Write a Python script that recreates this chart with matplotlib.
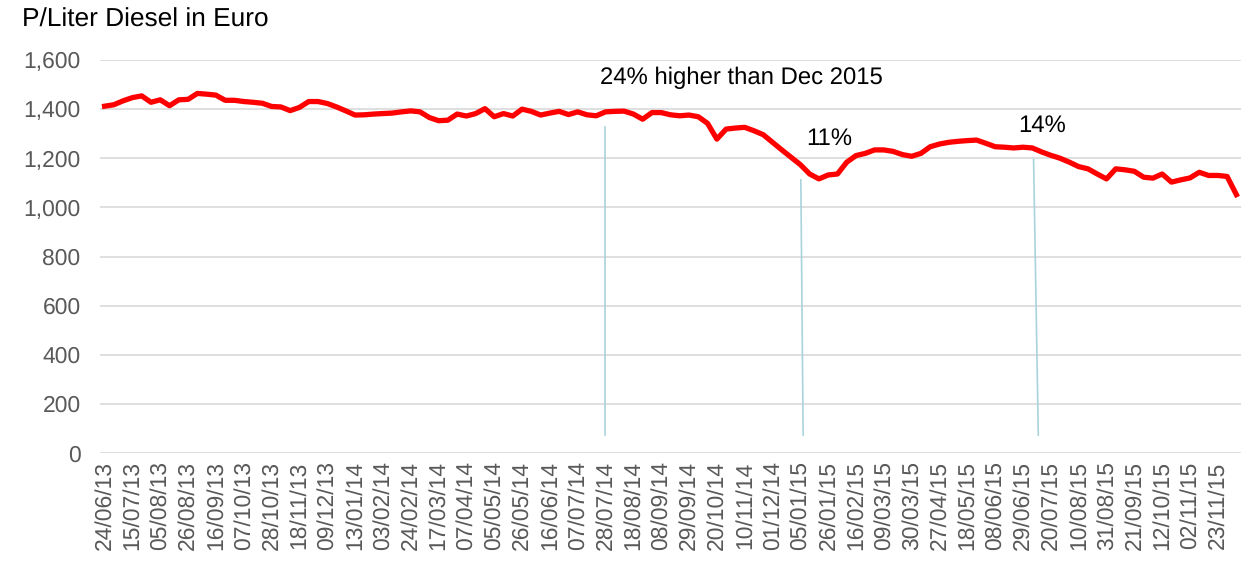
import matplotlib.pyplot as plt

plt.rcParams["font.family"] = ["Liberation Sans", "DejaVu Sans"]
plt.rcParams["text.hinting"] = "no_hinting"

# weekly diesel price per liter (one point per week, labels every 3rd week)
prices = [
    1412, 1418, 1434, 1447, 1454, 1428, 1438, 1414, 1438, 1440,
    1464, 1461, 1457, 1436, 1436, 1431, 1428, 1424, 1411, 1409,
    1394, 1407, 1431, 1431, 1423, 1409, 1393, 1376, 1377, 1380,
    1382, 1384, 1389, 1393, 1389, 1366, 1353, 1355, 1380, 1372,
    1382, 1402, 1369, 1382, 1372, 1400, 1391, 1376, 1384, 1391,
    1378, 1389, 1377, 1373, 1389, 1391, 1392, 1380, 1359, 1386,
    1386, 1377, 1373, 1376, 1369, 1342, 1278, 1319, 1323, 1326,
    1312, 1296, 1265, 1234, 1204, 1174, 1136, 1116, 1132, 1136,
    1184, 1211, 1220, 1234, 1234, 1228, 1215, 1208, 1220, 1247,
    1258, 1265, 1269, 1272, 1274, 1261, 1247, 1245, 1242, 1245,
    1242, 1226, 1212, 1200, 1184, 1166, 1157, 1136, 1116, 1157,
    1153, 1147, 1123, 1119, 1136, 1103, 1112, 1120, 1143, 1130,
    1130, 1126, 1052,
]

tick_labels = [
    "24/06/13", "15/07/13", "05/08/13", "26/08/13", "16/09/13", "07/10/13",
    "28/10/13", "18/11/13", "09/12/13", "13/01/14", "03/02/14", "24/02/14",
    "17/03/14", "07/04/14", "05/05/14", "26/05/14", "16/06/14", "07/07/14",
    "28/07/14", "18/08/14", "08/09/14", "29/09/14", "20/10/14", "10/11/14",
    "01/12/14", "05/01/15", "26/01/15", "16/02/15", "09/03/15", "30/03/15",
    "27/04/15", "18/05/15", "08/06/15", "29/06/15", "20/07/15", "10/08/15",
    "31/08/15", "21/09/15", "12/10/15", "02/11/15", "23/11/15",
]

# annotations: text, text x, text y, marker line (x bottom, x top, y top)
notes = [
    ("24% higher than Dec 2015", 53.4, 1527, 53.9, 53.9, 1326),
    ("11%", 75.6, 1278, 75.3, 75.05, 1112),
    ("14%", 98.5, 1331, 100.65, 100.14, 1196),
]

fig = plt.figure(figsize=(12.48, 5.61), dpi=100)
ax = fig.add_axes([0.0801, 0.1925, 0.9143, 0.7005])

x = list(range(len(prices)))
ax.plot(x, prices, color="#ff0000", lw=3.8, solid_joinstyle="round", zorder=3)

for text, tx, ty, lx0, lx1, ly in notes:
    ax.plot([lx0, lx1], [73, ly], color="#a9d3dc", lw=1.2, zorder=2)
    ax.text(tx, ty, text, fontsize=17.2, ha="left", va="center", color="#000000")

ax.set_xlim(-0.5, len(prices) - 0.5)
ax.set_ylim(0, 1600)
ax.set_yticks(range(0, 1601, 200))
ax.set_yticklabels([f"{v:,}" for v in range(0, 1601, 200)])
ax.set_xticks(range(0, 3 * len(tick_labels), 3))
ax.set_xticklabels(tick_labels, rotation=90)

ax.tick_params(axis="both", length=0, labelsize=16.5, labelcolor="#595959")
ax.tick_params(axis="y", pad=14)
ax.tick_params(axis="x", pad=6)
ax.grid(axis="y", color="#d9d9d9", lw=1.2)
ax.set_axisbelow(True)
for s in ax.spines.values():
    s.set_visible(False)

fig.text(0.0176, 0.964, "P/Liter Diesel in Euro", fontsize=18.9, va="center", ha="left")

fig.savefig("out.png", dpi=100)
